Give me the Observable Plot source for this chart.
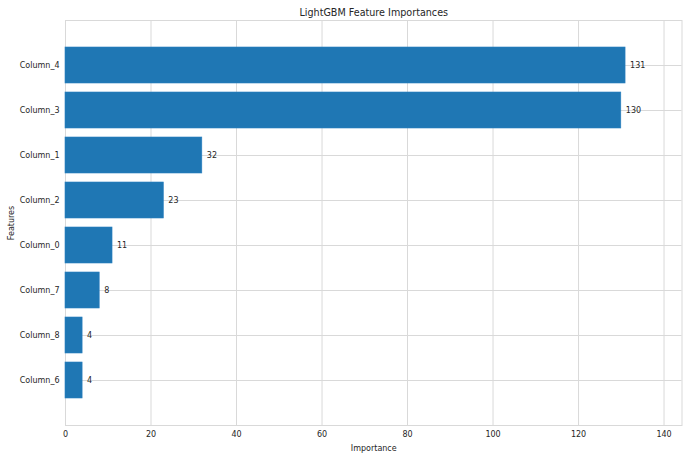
<!DOCTYPE html>
<html>
<head>
<meta charset="utf-8">
<script src="https://cdn.jsdelivr.net/npm/d3@7"></script>
<script src="https://cdn.jsdelivr.net/npm/@observablehq/plot@0.6"></script>
<style>
  html, body { margin: 0; padding: 0; background: #fff; }
  svg { display: block; }
</style>
</head>
<body>
<div id="chart"></div>
<script>
const features = ["Column_4", "Column_3", "Column_1", "Column_2", "Column_0", "Column_7", "Column_8", "Column_6"];
const importances = [131, 130, 32, 23, 11, 8, 4, 4];
const xTicks = [0, 20, 40, 60, 80, 100, 120, 140];
const title = "LightGBM Feature Importances";

const data = features.map((f, i) => ({feature: f, value: importances[i]}));
const gridColor = "#d9d9d9";

const chart = Plot.plot({
  width: 690,
  height: 459,
  marginLeft: 65,
  marginRight: 8.5,
  marginTop: 20,
  marginBottom: 34,
  style: {fontFamily: "DejaVu Sans, sans-serif", fontSize: "8px", color: "#262626", background: "#fff"},
  x: {domain: [0, 144.2], ticks: xTicks, tickSize: 0, tickPadding: 6, label: "Importance", labelAnchor: "center", labelArrow: "none", labelOffset: 25},
  y: {domain: features, paddingInner: 0.2, paddingOuter: 0.6, tickSize: 0, tickPadding: 6, label: "Features", labelAnchor: "center", labelArrow: "none", labelOffset: 57},
  marks: [
    Plot.ruleX(xTicks, {stroke: gridColor, strokeWidth: 1}),
    Plot.ruleY(features, {y: d => d, stroke: gridColor, strokeWidth: 1}),
    Plot.frame({stroke: gridColor, strokeWidth: 1}),
    Plot.barX(data, {x: "value", y: "feature", fill: "#1f77b4", stroke: "#2a7fbf", strokeWidth: 0.6}),
    Plot.text(data, {x: "value", y: "feature", text: d => String(d.value), textAnchor: "start", dx: 4.5, fill: "#262626", fontSize: 8}),
    Plot.text([title], {frameAnchor: "top", lineAnchor: "middle", dy: -7.5, text: d => d, fontSize: 9.6, fill: "#262626"})
  ]
});
document.getElementById("chart").appendChild(chart);
</script>
</body>
</html>
